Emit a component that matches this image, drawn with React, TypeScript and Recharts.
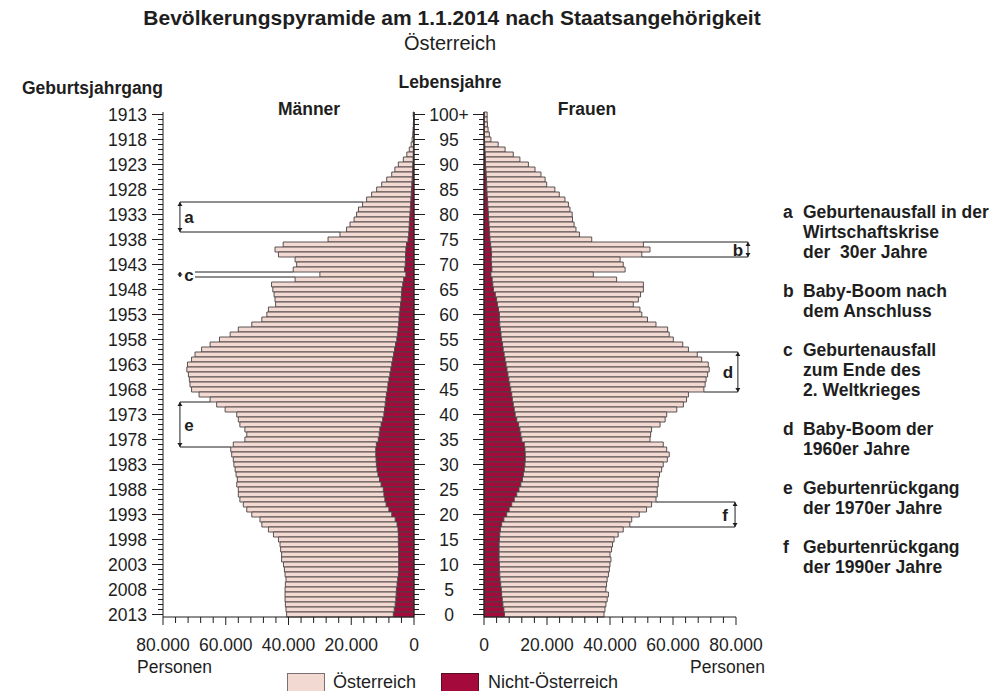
import React from "react";
import { BarChart, Bar, XAxis, YAxis, ReferenceLine, Legend } from "recharts";

// Lebensjahre, Index = Alter (0 .. 100+)
const ageLabels = [
  "0", "1", "2", "3", "4", "5", "6", "7", "8", "9",
  "10", "11", "12", "13", "14", "15", "16", "17", "18", "19",
  "20", "21", "22", "23", "24", "25", "26", "27", "28", "29",
  "30", "31", "32", "33", "34", "35", "36", "37", "38", "39",
  "40", "41", "42", "43", "44", "45", "46", "47", "48", "49",
  "50", "51", "52", "53", "54", "55", "56", "57", "58", "59",
  "60", "61", "62", "63", "64", "65", "66", "67", "68", "69",
  "70", "71", "72", "73", "74", "75", "76", "77", "78", "79",
  "80", "81", "82", "83", "84", "85", "86", "87", "88", "89",
  "90", "91", "92", "93", "94", "95", "96", "97", "98", "99",
  "100+",
];

// Männer insgesamt, Personen je Alter
const maleTotal = [
  40600, 40800, 41000, 41100, 41100, 41100, 41000, 40800, 41100, 41300,
  41600, 42200, 42200, 42500, 42700, 43200, 44800, 46400, 48500, 49100,
  51700, 53300, 54400, 55500, 56000, 56000, 56500, 56300, 56700, 57000,
  57400, 57600, 58100, 58400, 57600, 53900, 53300, 53900, 55500, 56000,
  56500, 60200, 62900, 65000, 68500, 70900, 71400, 71600, 71900, 72400,
  72200, 70900, 69800, 67700, 65000, 62000, 58600, 56000, 51700, 48500,
  46900, 46400, 44100, 44300, 44600, 45000, 45400, 37900, 30000, 38500,
  37400, 37900, 43200, 44300, 41700, 27400, 23600, 21500, 20400, 19100,
  18300, 17700, 16400, 15100, 13500, 11900, 10300, 8700, 7100, 6100,
  5000, 3400, 2300, 1500, 900, 600, 400, 300, 200, 150,
  250,
];

// davon nicht-österreichische Staatsangehörige
const maleForeign = [
  6600, 6300, 6000, 5800, 5700, 5600, 5400, 5200, 5000, 4900,
  4900, 4900, 4900, 4900, 5000, 5000, 5000, 5100, 5400, 6000,
  7100, 8000, 8900, 9300, 9600, 9800, 10500, 11000, 11500, 11800,
  12000, 12100, 12200, 12200, 12000, 11400, 11100, 10900, 10500, 10000,
  9600, 9400, 9200, 9000, 8800, 8500, 8300, 8000, 7700, 7400,
  7100, 6800, 6500, 6200, 5900, 5500, 5300, 5100, 4900, 4800,
  4700, 4500, 4300, 4100, 4000, 3900, 3600, 3300, 2600, 3000,
  2800, 2700, 2700, 2600, 2400, 1900, 1700, 1600, 1500, 1400,
  1300, 1200, 1100, 1000, 900, 800, 700, 600, 500, 450,
  400, 300, 250, 200, 150, 100, 80, 60, 50, 40,
  50,
];

// Frauen insgesamt
const femaleTotal = [
  38100, 38400, 38700, 39100, 39500, 38700, 38900, 39100, 39500, 39800,
  40000, 40300, 40000, 40500, 40800, 41300, 42600, 44200, 46300, 46900,
  49300, 51600, 53200, 54600, 55000, 55000, 55300, 55300, 55700, 56400,
  56900, 58200, 58800, 58000, 56900, 52700, 52900, 53200, 55900, 57500,
  58000, 61200, 63300, 64300, 64900, 69800, 70200, 70500, 71000, 71500,
  71200, 69100, 67700, 64900, 63100, 60100, 58800, 58300, 54600, 51900,
  50100, 49500, 47400, 49000, 49700, 50600, 50600, 42100, 34700, 44800,
  44200, 43200, 50100, 52700, 50600, 34200, 30300, 29200, 28600, 28100,
  28000, 27300, 26800, 25700, 23900, 22500, 19900, 19400, 18100, 16200,
  14100, 11400, 9300, 6700, 4500, 2200, 1700, 1300, 1100, 1000,
  1000,
];

const femaleForeign = [
  6500, 6300, 6000, 5800, 5600, 5500, 5300, 5100, 5000, 4900,
  4900, 4800, 4800, 4800, 4800, 4900, 5000, 5200, 5600, 6300,
  7200, 8000, 8800, 9600, 10400, 11100, 11700, 12200, 12500, 12800,
  13000, 13100, 13100, 13000, 12800, 12000, 11700, 11400, 11000, 10400,
  9900, 9600, 9300, 9000, 8800, 8500, 8200, 7900, 7600, 7300,
  7000, 6700, 6400, 6100, 5900, 5600, 5400, 5200, 5000, 4900,
  4900, 4600, 4300, 4000, 3600, 3000, 2800, 2600, 2200, 2500,
  2400, 2300, 2400, 2300, 2100, 1900, 1800, 1700, 1600, 1500,
  1400, 1300, 1200, 1100, 1000, 900, 850, 800, 700, 600,
  500, 450, 400, 300, 250, 150, 120, 100, 80, 60,
  60,
];

const personTicks = [
  0, 4000, 8000, 12000, 16000, 20000, 24000, 28000, 32000, 36000, 40000,
  44000, 48000, 52000, 56000, 60000, 64000, 68000, 72000, 76000, 80000,
];

const seriesNames = { foreign: "Nicht-Österreich", austrian: "Österreich" };

// Erläuterungen a-f: Altersbereich (von oben nach unten)
const brackets = [
  { key: "a", side: "m", fromAge: 82, toAge: 77, arrowAt: 74600, lineFrom: 74600 },
  { key: "c", side: "m", fromAge: 68, toAge: 68, arrowAt: 74600, lineFrom: 69800 },
  { key: "e", side: "m", fromAge: 42, toAge: 34, arrowAt: 74600, lineFrom: 74600 },
  { key: "b", side: "f", fromAge: 74, toAge: 72, arrowAt: 83800, lineFrom: 83800 },
  { key: "d", side: "f", fromAge: 52, toAge: 45, arrowAt: 80600, lineFrom: 80600 },
  { key: "f", side: "f", fromAge: 22, toAge: 18, arrowAt: 79700, lineFrom: 79700 },
];

const notes = [
  { key: "a", lines: ["Geburtenausfall in der", "Wirtschaftskrise", "der  30er Jahre"] },
  { key: "b", lines: ["Baby-Boom nach", "dem Anschluss"] },
  { key: "c", lines: ["Geburtenausfall", "zum Ende des", "2. Weltkrieges"] },
  { key: "d", lines: ["Baby-Boom der", "1960er Jahre"] },
  { key: "e", lines: ["Geburtenrückgang", "der 1970er Jahre"] },
  { key: "f", lines: ["Geburtenrückgang", "der 1990er Jahre"] },
];

// oberste Zeile = 100+, unterste = 0
const rows = ageLabels
  .map((age, i) => ({
    age,
    year: 2013 - i,
    mForeign: maleForeign[i],
    mAustrian: maleTotal[i] - maleForeign[i],
    fForeign: femaleForeign[i],
    fAustrian: femaleTotal[i] - femaleForeign[i],
  }))
  .reverse();

const ink = "#1e1e1e";
const pink = "#f2d9d2";
const crimson = "#a50a3c";
const barEdge = "#4b4242";
const font = "'Liberation Sans', Arial, Helvetica, sans-serif";
const fs = 17.5;

const fmtPersons = (v: number) => (v === 0 ? "0" : `${v / 1000}.000`);
const isMajorAge = (label: string) => label === "100+" || Number(label) % 5 === 0;

const PersonTick = (p: any) => {
  const v = p.payload.value as number;
  const major = v % 20000 === 0;
  return (
    <g>
      <line x1={p.x} x2={p.x} y1={p.y} y2={p.y + (major ? 8 : 6)} stroke={ink} />
      {major && (
        <text x={p.x} y={p.y + 34} textAnchor="middle" fontSize={fs} fontFamily={font} fill={ink}>
          {fmtPersons(v)}
        </text>
      )}
    </g>
  );
};

const YearTick = (p: any) => {
  const year = Number(p.payload.value);
  const major = (2013 - year) % 5 === 0;
  return (
    <g>
      <line x1={p.x - (major ? 11 : 5)} x2={p.x} y1={p.y} y2={p.y} stroke={ink} />
      {major && (
        <text x={p.x - 16} y={p.y} dy="0.36em" textAnchor="end" fontSize={fs} fontFamily={font} fill={ink}>
          {year}
        </text>
      )}
    </g>
  );
};

const AgeTick = (p: any) => {
  const label = String(p.payload.value);
  const major = isMajorAge(label);
  return (
    <g>
      <line x1={p.x} x2={p.x + (major ? 11 : 5)} y1={p.y} y2={p.y} stroke={ink} />
      {major && (
        <text x={p.x + 35} y={p.y} dy="0.36em" textAnchor="middle" fontSize={fs} fontFamily={font} fill={ink}>
          {label}
        </text>
      )}
    </g>
  );
};

const AgeTickInner = (p: any) => {
  const major = isMajorAge(String(p.payload.value));
  return <line x1={p.x - (major ? 11 : 5)} x2={p.x} y1={p.y} y2={p.y} stroke={ink} />;
};

const arrowShape = (letter: string, side: string) => (p: any) => {
  const x = p.x1;
  const top = Math.min(p.y1, p.y2);
  const bottom = Math.max(p.y1, p.y2);
  const head = Math.min(4, (bottom - top) / 2);
  const lx = side === "m" ? x + 9 : x - 10;
  return (
    <g>
      <line x1={x} x2={x} y1={top} y2={bottom} stroke={ink} strokeWidth={1} />
      <path d={`M${x - 2.5},${top + head}L${x},${top}L${x + 2.5},${top + head}Z`} fill={ink} />
      <path d={`M${x - 2.5},${bottom - head}L${x},${bottom}L${x + 2.5},${bottom - head}Z`} fill={ink} />
      <text x={lx} y={(top + bottom) / 2} dy="0.36em" textAnchor="middle" fontSize={17} fontWeight="bold" fontFamily={font} fill={ink}>
        {letter}
      </text>
    </g>
  );
};

const bracketLines = (side: string, yAxisId: string) => {
  const totals = side === "m" ? maleTotal : femaleTotal;
  return brackets
    .filter((b) => b.side === side)
    .flatMap((b) => {
      const topLabel = ageLabels[b.fromAge];
      const bottomLabel = ageLabels[b.toAge - 1];
      const topEdge = Math.max(totals[b.fromAge], totals[b.fromAge + 1]);
      const bottomEdge = Math.max(totals[b.toAge], totals[b.toAge - 1]);
      return [
        <ReferenceLine
          key={`${b.key}-top`}
          yAxisId={yAxisId}
          position="start"
          ifOverflow="visible"
          stroke={ink}
          strokeWidth={1}
          segment={[{ x: b.lineFrom, y: topLabel }, { x: topEdge, y: topLabel }]}
        />,
        <ReferenceLine
          key={`${b.key}-bottom`}
          yAxisId={yAxisId}
          position="start"
          ifOverflow="visible"
          stroke={ink}
          strokeWidth={1}
          segment={[{ x: b.lineFrom, y: bottomLabel }, { x: bottomEdge, y: bottomLabel }]}
        />,
        <ReferenceLine
          key={`${b.key}-arrow`}
          yAxisId={yAxisId}
          position="start"
          ifOverflow="visible"
          segment={[{ x: b.arrowAt, y: topLabel }, { x: b.arrowAt, y: bottomLabel }]}
          shape={arrowShape(b.key, side)}
        />,
      ];
    });
};

const LegendBox = () => (
  <div style={{ position: "relative", width: 340, height: 20, fontFamily: font, fontSize: 18, color: ink }}>
    <span style={{ position: "absolute", left: 0, top: 1, width: 38, height: 19, background: pink, border: "1px solid #7a7070", boxSizing: "border-box" }} />
    <span style={{ position: "absolute", left: 46, top: 0, lineHeight: "21px", whiteSpace: "nowrap" }}>{seriesNames.austrian}</span>
    <span style={{ position: "absolute", left: 154, top: 1, width: 38, height: 19, background: crimson, border: "1px solid #5a1020", boxSizing: "border-box" }} />
    <span style={{ position: "absolute", left: 201, top: 0, lineHeight: "21px", whiteSpace: "nowrap" }}>{seriesNames.foreign}</span>
  </div>
);

export default function App() {
  let noteY = 218;
  const noteBlocks = notes.map((n) => {
    const y0 = noteY;
    noteY += n.lines.length * 20 + 19;
    return (
      <g key={n.key}>
        <text x={783} y={y0} fontSize={fs} fontWeight="bold" fontFamily={font} fill={ink}>{n.key}</text>
        {n.lines.map((l, i) => (
          <text key={i} x={803} y={y0 + i * 20} fontSize={fs} fontWeight="bold" fontFamily={font} fill={ink} style={{ whiteSpace: "pre" }}>
            {l}
          </text>
        ))}
      </g>
    );
  });

  return (
    <div style={{ position: "absolute", left: 0, top: 0, width: 992, height: 691, background: "#fff", overflow: "hidden" }}>
      <svg width={992} height={691} style={{ position: "absolute", left: 0, top: 0 }}>
        <text x={452} y={25} textAnchor="middle" fontSize={21} fontWeight="bold" fontFamily={font} fill={ink}>
          Bevölkerungspyramide am 1.1.2014 nach Staatsangehörigkeit
        </text>
        <text x={450} y={50} textAnchor="middle" fontSize={20} fontFamily={font} fill={ink}>Österreich</text>
        <text x={22} y={94} fontSize={fs} fontWeight="bold" fontFamily={font} fill={ink}>Geburtsjahrgang</text>
        <text x={450} y={88} textAnchor="middle" fontSize={fs} fontWeight="bold" fontFamily={font} fill={ink}>Lebensjahre</text>
        <text x={309} y={115} textAnchor="middle" fontSize={fs} fontWeight="bold" fontFamily={font} fill={ink}>Männer</text>
        <text x={587} y={115} textAnchor="middle" fontSize={fs} fontWeight="bold" fontFamily={font} fill={ink}>Frauen</text>
        <text x={137} y={673} fontSize={fs} fontFamily={font} fill={ink}>Personen</text>
        <text x={765} y={673} textAnchor="end" fontSize={fs} fontFamily={font} fill={ink}>Personen</text>
        {noteBlocks}
      </svg>

      <div style={{ position: "absolute", left: 0, top: 0 }}>
        <BarChart layout="vertical" width={484} height={691} data={rows} margin={{ top: 112, right: 0, bottom: 0, left: 0 }} barCategoryGap={0}>
          <XAxis
            type="number"
            domain={[0, 80000]}
            reversed
            ticks={personTicks}
            interval={0}
            height={74}
            tickSize={0}
            tickMargin={0}
            tickLine={false}
            axisLine={{ stroke: ink }}
            tick={PersonTick}
          />
          <YAxis
            yAxisId="year"
            type="category"
            dataKey="year"
            orientation="left"
            width={163}
            interval={0}
            tickSize={0}
            tickMargin={0}
            tickLine={false}
            axisLine={{ stroke: ink }}
            tick={YearTick}
          />
          <YAxis
            yAxisId="age"
            type="category"
            dataKey="age"
            orientation="right"
            width={70}
            interval={0}
            tickSize={0}
            tickMargin={0}
            tickLine={false}
            axisLine={{ stroke: ink }}
            tick={AgeTick}
          />
          <Bar yAxisId="age" dataKey="mForeign" name={seriesNames.foreign} stackId="m" fill={crimson} stroke={barEdge} strokeWidth={0.9} isAnimationActive={false} />
          <Bar yAxisId="age" dataKey="mAustrian" name={seriesNames.austrian} stackId="m" fill={pink} stroke={barEdge} strokeWidth={0.9} isAnimationActive={false} />
          {bracketLines("m", "age")}
          <Legend
            layout="horizontal"
            verticalAlign="middle"
            align="center"
            wrapperStyle={{ left: 287, top: 672, width: 340, height: 20 }}
            content={() => <LegendBox />}
          />
        </BarChart>
      </div>

      <div style={{ position: "absolute", left: 414, top: 0 }}>
        <BarChart layout="vertical" width={578} height={691} data={rows} margin={{ top: 112, right: 256, bottom: 0, left: 0 }} barCategoryGap={0}>
          <XAxis
            type="number"
            domain={[0, 80000]}
            ticks={personTicks}
            interval={0}
            height={74}
            tickSize={0}
            tickMargin={0}
            tickLine={false}
            axisLine={{ stroke: ink }}
            tick={PersonTick}
          />
          <YAxis
            yAxisId="age"
            type="category"
            dataKey="age"
            orientation="left"
            width={70}
            interval={0}
            tickSize={0}
            tickMargin={0}
            tickLine={false}
            axisLine={{ stroke: ink }}
            tick={AgeTickInner}
          />
          <Bar yAxisId="age" dataKey="fForeign" name={seriesNames.foreign} stackId="f" fill={crimson} stroke={barEdge} strokeWidth={0.9} isAnimationActive={false} />
          <Bar yAxisId="age" dataKey="fAustrian" name={seriesNames.austrian} stackId="f" fill={pink} stroke={barEdge} strokeWidth={0.9} isAnimationActive={false} />
          {bracketLines("f", "age")}
        </BarChart>
      </div>
    </div>
  );
}
